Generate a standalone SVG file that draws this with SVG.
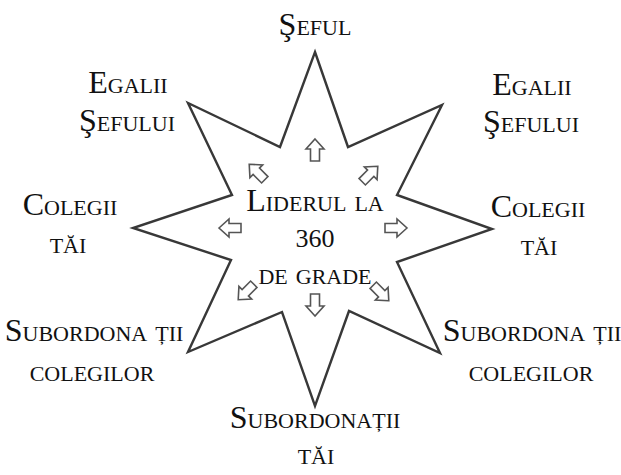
<svg xmlns="http://www.w3.org/2000/svg" xmlns:xlink="http://www.w3.org/1999/xlink" width="621" height="475" viewBox="0 0 621 475">
<style>
.lbl{font-family:"Liberation Serif","Times New Roman",serif;font-size:32px;font-variant:small-caps;fill:#111;text-anchor:middle}
.num{font-family:"Liberation Serif","Times New Roman",serif;font-size:26px;fill:#111;text-anchor:middle}
.star{fill:#fff;stroke:#383838;stroke-width:2.4;stroke-linejoin:miter}
.arr{fill:#fff;stroke:#555;stroke-width:1.6;stroke-linejoin:miter}
</style>
<defs>
<path id="arrow" class="arr" d="M0,-11 L9,-1 L4.5,-1 L4.5,11 L-4.5,11 L-4.5,-1 L-9,-1 Z"/>
</defs>
<rect width="621" height="475" fill="#fff"/>
<g id="star">
<polygon class="star" points="315,52 348,147 442,105 397,195 492,229 397,262 440,353 349,311 315,406 282,312 188,352 231,260 133,228 232,195 188,103 280,147"/>
</g>
<g id="connectors">
<use xlink:href="#arrow" transform="translate(315,150)"/>
<use xlink:href="#arrow" transform="translate(370,174) rotate(45)"/>
<use xlink:href="#arrow" transform="translate(396,228) rotate(90)"/>
<use xlink:href="#arrow" transform="translate(381,293) rotate(135)"/>
<use xlink:href="#arrow" transform="translate(315,305) rotate(180)"/>
<use xlink:href="#arrow" transform="translate(246,292) rotate(225)"/>
<use xlink:href="#arrow" transform="translate(230,228) rotate(270)"/>
<use xlink:href="#arrow" transform="translate(257,172) rotate(315)"/>
</g>
<g id="center">
<text class="lbl" x="315" y="211">Liderul la</text>
<text class="num" x="315" y="247">360</text>
<text class="lbl" x="315" y="284">de grade</text>
</g>
<g id="seful"><text class="lbl" x="315" y="35">Şeful</text></g>
<g id="egalii-left">
<text class="lbl" x="128" y="93">Egalii</text>
<text class="lbl" x="127" y="131">Şefului</text>
</g>
<g id="egalii-right">
<text class="lbl" x="532" y="95">Egalii</text>
<text class="lbl" x="531" y="132">Şefului</text>
</g>
<g id="colegii-left">
<text class="lbl" x="70" y="215">Colegii</text>
<text class="lbl" x="68" y="253">tăi</text>
</g>
<g id="colegii-right">
<text class="lbl" x="538" y="217">Colegii</text>
<text class="lbl" x="539" y="255">tăi</text>
</g>
<g id="sub-col-left">
<text class="lbl" x="94" y="341">Subordona ții</text>
<text class="lbl" x="92" y="381">colegilor</text>
</g>
<g id="sub-col-right">
<text class="lbl" x="532" y="341">Subordona ții</text>
<text class="lbl" x="531" y="381">colegilor</text>
</g>
<g id="sub-tai">
<text class="lbl" x="315" y="428">Subordonații</text>
<text class="lbl" x="316" y="464">tăi</text>
</g>
</svg>
